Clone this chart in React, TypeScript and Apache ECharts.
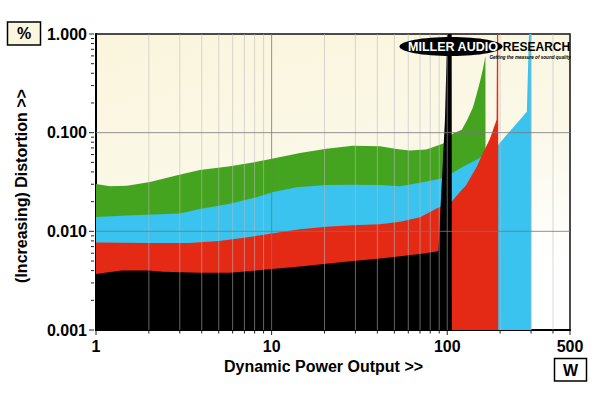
import React, { useEffect, useRef } from "react";
import * as echarts from "echarts";

const FONT = "'Liberation Sans', Arial, Helvetica, sans-serif";

// Power (W), THD (%)
const greenData: [number, number][] = [
  [1, 0.0302], [1.2, 0.0286], [1.5, 0.029], [2.03, 0.0316], [2.9, 0.037], [3.9, 0.0418],
  [5.8, 0.0457], [8.2, 0.0506], [10.2, 0.0548], [14.5, 0.0624], [20.5, 0.0688], [29, 0.0735],
  [41.5, 0.073], [51.5, 0.0682], [61, 0.066], [76, 0.0675], [95, 0.0775], [108, 0.098],
  [121, 0.107], [130, 0.135], [140, 0.18], [147, 0.245], [153, 0.32], [160, 0.45], [165, 0.6], [165.5, 0.001],
];
const cyanData: [number, number][] = [
  [1, 0.014], [1.5, 0.0145], [2.3, 0.0149], [3, 0.0152], [3.9, 0.0168], [5.8, 0.019],
  [8.2, 0.0222], [10.2, 0.025], [13.9, 0.028], [20.5, 0.0294], [29, 0.0297], [41.5, 0.0294],
  [53.7, 0.0287], [70, 0.0311], [91, 0.0342], [106, 0.0385], [118, 0.0434], [128, 0.047],
  [147, 0.053], [156, 0.057], [175, 0.065], [194, 0.0747], [284, 0.163], [292, 1.0], [301, 1.0], [301.2, 0.001],
];
const redData: [number, number][] = [
  [1, 0.0077], [2, 0.0076], [3.4, 0.0076], [5, 0.008], [7, 0.0086], [10, 0.0095],
  [14.5, 0.0105], [20.5, 0.0111], [29, 0.0115], [41.5, 0.0118], [54, 0.0125], [70, 0.0139],
  [87, 0.017], [106, 0.0199], [118, 0.0251], [128, 0.0293], [147, 0.0449], [156, 0.0568],
  [175, 0.087], [191, 0.135], [192, 1.0], [195, 1.0], [195.2, 0.001],
];
const blackData: [number, number][] = [
  [1, 0.0037], [1.4, 0.004], [2, 0.004], [2.4, 0.0039], [3.9, 0.0038], [5.8, 0.0038],
  [9.3, 0.0041], [14.5, 0.0044], [20.5, 0.0047], [29, 0.005], [41.5, 0.0053], [54, 0.0056],
  [70, 0.0059], [89, 0.0063], [97, 0.134], [100, 1.0], [106, 1.0], [106.2, 0.001],
];

// grid / tick values
const xMinorLines = [2, 3, 4, 5, 6, 7, 8, 9, 20, 30, 40, 50, 60, 70, 80, 90, 200, 300, 400];
const xMajorLines = [10, 100];
const xEndTicks = [1, 500];
const yMajorLines = [0.1, 0.01];
const yEndTicks = [1, 0.001];
const yMinorTicks = [
  0.9, 0.8, 0.7, 0.6, 0.5, 0.4, 0.3, 0.2,
  0.09, 0.08, 0.07, 0.06, 0.05, 0.04, 0.03, 0.02,
  0.009, 0.008, 0.007, 0.006, 0.005, 0.004, 0.003, 0.002,
];

const X_MIN = 1;
const X_MAX = 500;
const Y_MIN = 0.001;
const Y_MAX = 1;

export default function App() {
  const ref = useRef<HTMLDivElement>(null);

  useEffect(() => {
    const chart = echarts.init(ref.current!, null, { renderer: "svg" });

    const area = (name: string, data: [number, number][], color: string, z: number) => ({
      type: "line",
      name,
      data,
      z,
      symbol: "none",
      showSymbol: false,
      silent: true,
      lineStyle: { width: 0 },
      areaStyle: { color, opacity: 1, origin: "start" },
    });

    const minorStroke = "rgba(185,185,185,0.55)";
    const majorStroke = "rgba(120,120,120,0.8)";

    // kind: 0 minor grid line, 1 major grid line, 2 end tick only
    const xLineData = [
      ...xMinorLines.map((v) => [v, Y_MAX, 0]),
      ...xMajorLines.map((v) => [v, Y_MAX, 1]),
      ...xEndTicks.map((v) => [v, Y_MAX, 2]),
    ];
    const yLineData = [
      ...yMinorTicks.map((v) => [X_MIN, v, 0]),
      ...yMajorLines.map((v) => [X_MIN, v, 1]),
      ...yEndTicks.map((v) => [X_MIN, v, 2]),
    ];

    const option: any = {
      animation: false,
      backgroundColor: "#ffffff",
      grid: {
        left: 96,
        top: 34,
        right: 30,
        bottom: 63,
        show: true,
        borderColor: "#111",
        borderWidth: 1.5,
        backgroundColor: new echarts.graphic.LinearGradient(0, 0, 0.35, 1, [
          { offset: 0, color: "#faf5dc" },
          { offset: 0.55, color: "#fbf8e8" },
          { offset: 1, color: "#ffffff" },
        ]),
      },
      xAxis: {
        type: "log",
        logBase: 10,
        min: X_MIN,
        max: X_MAX,
        axisLine: { show: true, lineStyle: { color: "#000", width: 2 } },
        axisTick: { show: false },
        splitLine: { show: false },
        axisLabel: {
          margin: 8,
          color: "#000",
          fontFamily: FONT,
          fontWeight: "bold",
          fontSize: 16,
          showMaxLabel: true,
          formatter: (v: number) => String(Math.round(v)),
        },
      },
      yAxis: {
        type: "log",
        logBase: 10,
        min: Y_MIN,
        max: Y_MAX,
        splitNumber: 3,
        axisLine: { show: true, lineStyle: { color: "#000", width: 2 } },
        axisTick: { show: false },
        splitLine: { show: false },
        axisLabel: {
          margin: 9,
          color: "#000",
          fontFamily: FONT,
          fontWeight: "bold",
          fontSize: 16,
          showMaxLabel: true,
          formatter: (v: number) => Number(v).toFixed(3),
        },
      },
      series: [
        area("green", greenData, "#45a41f", 2),
        area("cyan", cyanData, "#39c3ee", 3),
        area("red", redData, "#e42914", 4),
        area("black", blackData, "#000000", 5),
        {
          type: "custom",
          name: "xgrid",
          silent: true,
          z: 10,
          clip: false,
          data: xLineData,
          renderItem: (params: any, api: any) => {
            const cs = params.coordSys;
            const kind = api.value(2);
            const x = api.coord([api.value(0), Y_MAX])[0];
            const bottom = cs.y + cs.height;
            const children: any[] = [];
            if (kind !== 2) {
              children.push({
                type: "line",
                shape: { x1: x, y1: cs.y, x2: x, y2: bottom },
                style: { stroke: kind === 1 ? majorStroke : minorStroke, lineWidth: 1 },
              });
            }
            children.push({
              type: "line",
              shape: { x1: x, y1: bottom + 1, x2: x, y2: bottom + (kind === 0 ? 3.5 : 5) },
              style: { stroke: "#222", lineWidth: 1 },
            });
            return { type: "group", children };
          },
        },
        {
          type: "custom",
          name: "ygrid",
          silent: true,
          z: 10,
          clip: false,
          data: yLineData,
          renderItem: (params: any, api: any) => {
            const cs = params.coordSys;
            const kind = api.value(2);
            const y = api.coord([X_MIN, api.value(1)])[1];
            const children: any[] = [];
            if (kind === 1) {
              children.push({
                type: "line",
                shape: { x1: cs.x, y1: y, x2: cs.x + cs.width, y2: y },
                style: { stroke: majorStroke, lineWidth: 1 },
              });
            }
            children.push({
              type: "line",
              shape: { x1: cs.x - (kind === 0 ? 5 : 7), y1: y, x2: cs.x - 2, y2: y },
              style: { stroke: "#222", lineWidth: 1 },
            });
            return { type: "group", children };
          },
        },
      ],
      graphic: [
        // "%" unit box
        {
          type: "rect",
          z: 100,
          shape: { x: 7.5, y: 22, width: 33, height: 23 },
          style: { fill: "#fbf7df", stroke: "#000", lineWidth: 1.5 },
        },
        {
          type: "text",
          z: 101,
          x: 24,
          y: 33.5,
          style: {
            text: "%",
            fill: "#000",
            fontFamily: FONT,
            fontWeight: "bold",
            fontSize: 16,
            align: "center",
            verticalAlign: "middle",
          },
        },
        // "W" unit box
        {
          type: "rect",
          z: 100,
          shape: { x: 554.5, y: 358.5, width: 32, height: 22.5 },
          style: { fill: "#ffffff", stroke: "#000", lineWidth: 1.5 },
        },
        {
          type: "text",
          z: 101,
          x: 570.5,
          y: 370,
          style: {
            text: "W",
            fill: "#000",
            fontFamily: FONT,
            fontWeight: "bold",
            fontSize: 16,
            align: "center",
            verticalAlign: "middle",
          },
        },
        // axis titles
        {
          type: "text",
          z: 101,
          x: 323.5,
          y: 366,
          style: {
            text: "Dynamic Power Output >>",
            fill: "#000",
            fontFamily: FONT,
            fontWeight: "bold",
            fontSize: 16,
            align: "center",
            verticalAlign: "middle",
          },
        },
        {
          type: "text",
          z: 101,
          x: 21.5,
          y: 186,
          rotation: Math.PI / 2,
          style: {
            text: "(Increasing) Distortion >>",
            fill: "#000",
            fontFamily: FONT,
            fontWeight: "bold",
            fontSize: 16,
            align: "center",
            verticalAlign: "middle",
          },
        },
        // logo
        {
          type: "ellipse",
          z: 100,
          shape: { cx: 451, cy: 46.5, rx: 51.5, ry: 9.5 },
          style: { fill: "#000" },
        },
        {
          type: "text",
          z: 101,
          x: 453,
          y: 47,
          style: {
            text: "MILLER AUDIO",
            fill: "#fff",
            fontFamily: FONT,
            fontWeight: 900,
            fontSize: 12.5,
            align: "center",
            verticalAlign: "middle",
          },
        },
        {
          type: "text",
          z: 101,
          x: 536.5,
          y: 47,
          style: {
            text: "RESEARCH",
            fill: "#000",
            fontFamily: FONT,
            fontWeight: 900,
            fontSize: 12,
            align: "center",
            verticalAlign: "middle",
          },
        },
        {
          type: "text",
          z: 101,
          x: 530,
          y: 57,
          style: {
            text: "Getting the measure of sound quality",
            fill: "#000",
            fontFamily: FONT,
            fontWeight: "bold",
            fontStyle: "italic",
            fontSize: 4.6,
            align: "center",
            verticalAlign: "middle",
          },
        },
      ],
    };

    chart.setOption(option);
    return () => chart.dispose();
  }, []);

  return (
    <div
      ref={ref}
      style={{ position: "fixed", left: 0, top: 0, width: 600, height: 393, background: "#fff" }}
    />
  );
}
